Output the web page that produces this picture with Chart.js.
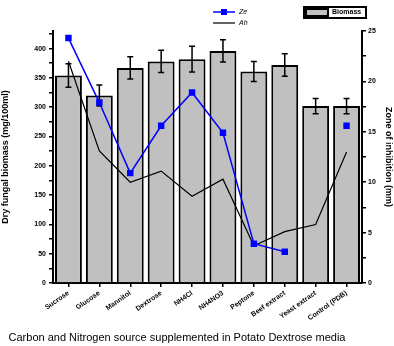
<!DOCTYPE html>
<html>
<head>
<meta charset="utf-8">
<script src="https://cdn.jsdelivr.net/npm/chart.js@4"></script>
<style>
  html, body { margin: 0; padding: 0; background: #fff; }
  #chartId { display: block; }
</style>
</head>
<body>
<canvas id="chartId" width="394" height="346"></canvas>
<script>
const categories = ['Sucrose', 'Glucose', 'Mannitol', 'Dextrose', 'NH4Cl', 'NH4NO3', 'Peptone', 'Beef extract', 'Yeast extract', 'Control (PDB)'];
const biomass = [354, 320, 367, 378, 382, 396, 361, 372, 302, 302];
const biomassErr = [20, 18, 19, 19, 22, 19, 17, 19, 13, 13];
const zoneZe = [24.3, 17.9, 10.9, 15.6, 18.9, 14.9, 3.9, 3.1, null, 15.6];
const zoneAh = [22.0, 13.1, 10.0, 11.1, 8.6, 10.3, 3.7, 5.1, 5.8, 13.0];

const FONT = "'Liberation Sans', Arial, sans-serif";

// error bars on top of the bar dataset
const errorBars = {
    id: 'errorBars',
    afterDatasetDraw(chart, args) {
        if (args.index !== 0) return;
        const ctx = chart.ctx;
        const y = chart.scales.y;
        const meta = chart.getDatasetMeta(0);
        ctx.save();
        ctx.strokeStyle = '#000';
        ctx.lineWidth = 1.5;
        meta.data.forEach((bar, i) => {
            const top = y.getPixelForValue(biomass[i] + biomassErr[i]);
            const bot = y.getPixelForValue(biomass[i] - biomassErr[i]);
            ctx.beginPath();
            ctx.moveTo(bar.x, top); ctx.lineTo(bar.x, bot);
            ctx.moveTo(bar.x - 3, top); ctx.lineTo(bar.x + 3, top);
            ctx.moveTo(bar.x - 3, bot); ctx.lineTo(bar.x + 3, bot);
            ctx.stroke();
        });
        ctx.restore();
    }
};

// legends and bottom caption
const extras = {
    id: 'extras',
    afterDraw(chart) {
        const ctx = chart.ctx;
        ctx.save();
        ctx.textBaseline = 'middle';
        ctx.font = 'italic 7px ' + FONT;
        ctx.fillStyle = '#000';
        // line legend
        ctx.strokeStyle = '#0000ff';
        ctx.lineWidth = 1.5;
        ctx.beginPath(); ctx.moveTo(213, 12); ctx.lineTo(235, 12); ctx.stroke();
        ctx.fillStyle = '#0000ff';
        ctx.fillRect(221, 9, 6, 6);
        ctx.fillStyle = '#000';
        ctx.fillText('Ze', 239, 12);
        ctx.strokeStyle = '#000';
        ctx.lineWidth = 1.2;
        ctx.beginPath(); ctx.moveTo(213, 23); ctx.lineTo(235, 23); ctx.stroke();
        ctx.fillText('Ah', 239, 23);
        // bar legend
        ctx.lineWidth = 2;
        ctx.strokeRect(304, 7, 62, 11);
        ctx.fillStyle = '#c0c0c0';
        ctx.fillRect(306, 9, 22, 7);
        ctx.strokeRect(306, 9, 22, 7);
        ctx.fillStyle = '#000';
        ctx.font = 'bold 7px ' + FONT;
        ctx.fillText('Biomass', 332, 12.5);
        // caption
        ctx.font = '11px ' + FONT;
        ctx.textAlign = 'center';
        ctx.fillText('Carbon and Nitrogen source supplemented in Potato Dextrose media', 177, 338);
        ctx.restore();
    }
};

var chrt = document.getElementById('chartId').getContext('2d');
var chartId = new Chart(chrt, {
    data: {
        labels: categories,
        datasets: [{
            type: 'bar',
            label: 'Biomass',
            data: biomass,
            backgroundColor: '#c0c0c0',
            borderColor: '#000',
            borderWidth: 2,
            barPercentage: 0.87,
            categoryPercentage: 1,
            yAxisID: 'y',
            order: 2,
        }, {
            type: 'line',
            label: 'Ze',
            data: zoneZe,
            borderColor: '#0000ff',
            backgroundColor: '#0000ff',
            borderWidth: 1.5,
            pointStyle: 'rect',
            pointRadius: 3.5,
            spanGaps: false,
            yAxisID: 'y1',
            order: 0,
        }, {
            type: 'line',
            label: 'Ah',
            data: zoneAh,
            borderColor: '#000',
            borderWidth: 1.2,
            pointRadius: 0,
            yAxisID: 'y1',
            order: 1,
        }],
    },
    options: {
        responsive: false,
        animation: false,
        layout: { padding: { top: 31, left: 0, right: 0, bottom: 0 } },
        plugins: {
            legend: { display: false },
            tooltip: { enabled: false },
        },
        scales: {
            x: {
                offset: true,
                grid: { drawOnChartArea: false, offset: false, color: '#000', lineWidth: 1.5, tickLength: 4 },
                border: { color: '#000', width: 2 },
                ticks: { color: '#000', font: { family: FONT, size: 7, weight: 'bold' }, minRotation: 35, maxRotation: 35, padding: 2, autoSkip: false },
                afterFit(scale) { scale.height = 63; },
            },
            y: {
                position: 'left',
                min: 0,
                max: 430,
                grid: { drawOnChartArea: false, color: '#000', lineWidth: 1.5, tickLength: 4 },
                border: { color: '#000', width: 2 },
                ticks: {
                    stepSize: 25,
                    includeBounds: false,
                    color: '#000',
                    padding: 3,
                    font: { family: FONT, size: 7, weight: 'bold' },
                    callback: (v) => (v % 50 === 0 ? v : ''),
                },
                title: { display: true, text: 'Dry fungal biomass (mg/100ml)', color: '#000', font: { family: FONT, size: 9, weight: 'bold' }, padding: 0 },
                afterFit(scale) { scale.width = 53; },
            },
            y1: {
                position: 'right',
                min: 0,
                max: 25,
                grid: { drawOnChartArea: false, color: '#000', lineWidth: 1.5, tickLength: 4 },
                border: { color: '#000', width: 2 },
                ticks: {
                    stepSize: 2.5,
                    color: '#000',
                    padding: 2,
                    font: { family: FONT, size: 7, weight: 'bold' },
                    callback: (v) => (v % 5 === 0 ? v : ''),
                },
                title: { display: true, text: 'Zone of inhibition (mm)', color: '#000', font: { family: FONT, size: 9, weight: 'bold' }, padding: 0 },
                afterFit(scale) { scale.width = 32; },
            },
        },
    },
    plugins: [errorBars, extras],
});
</script>
</body>
</html>
